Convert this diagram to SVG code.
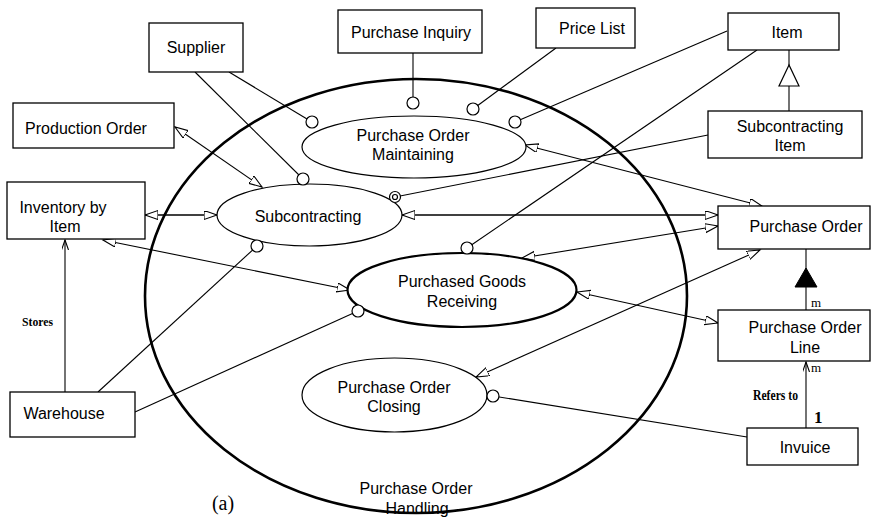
<svg xmlns="http://www.w3.org/2000/svg" width="873" height="524" viewBox="0 0 873 524">
<defs>
<style>
.box{fill:#fff;stroke:#000;stroke-width:1.3}
.uc{fill:#fff;stroke:#000;stroke-width:1.2}
.t{font-family:"Liberation Sans",Arial,sans-serif;font-size:16px;fill:#000;text-anchor:middle}
.s{font-family:"Liberation Serif","Times New Roman",serif;font-weight:bold;font-size:13px;fill:#000}
.ln{stroke:#000;stroke-width:1.1;fill:none}
.bi{marker-start:url(#ha);marker-end:url(#ha)}
.pt{fill:#fff;stroke:#000;stroke-width:1.2}
.m{font-family:"Liberation Serif","Times New Roman",serif;font-size:13px;fill:#000}
</style>
<marker id="ha" markerUnits="userSpaceOnUse" markerWidth="16" markerHeight="12" refX="13" refY="4.5" orient="auto-start-reverse">
<path d="M0,0 L13,4.5 L0,9 z" fill="#fff" stroke="#000" stroke-width="1.1"/>
</marker>
<marker id="va" markerUnits="userSpaceOnUse" markerWidth="12" markerHeight="10" refX="10" refY="3.5" orient="auto">
<path d="M0,0 L10,3.5 L0,7" fill="none" stroke="#000" stroke-width="1.1"/>
</marker>
</defs>
<rect width="873" height="524" fill="#fff"/>

<g id="handling">
<ellipse cx="416" cy="296" rx="271" ry="217" fill="none" stroke="#000" stroke-width="2.6"/>
<text class="t" x="416" y="494">Purchase Order</text>
<text class="t" x="417" y="514">Handling</text>
</g>

<g id="connectors">
<line class="ln" x1="229" y1="72" x2="312" y2="122"/>
<line class="ln" x1="195" y1="72" x2="303" y2="179"/>
<line class="ln" x1="413" y1="53" x2="413" y2="103"/>
<line class="ln" x1="556" y1="48" x2="473" y2="109"/>
<line class="ln" x1="727" y1="31" x2="515" y2="122"/>
<line class="ln" x1="757" y1="50" x2="467" y2="248"/>
<line class="ln" x1="708" y1="135" x2="395" y2="197"/>
<line class="ln bi" x1="525" y1="145" x2="762" y2="206"/>
<line class="ln bi" x1="175" y1="127" x2="262" y2="187"/>
<line class="ln bi" x1="145" y1="215" x2="217" y2="215" style="stroke-width:1.5"/>
<line class="ln bi" x1="402" y1="215" x2="718" y2="215" style="stroke-width:1.6"/>
<line class="ln bi" x1="103" y1="240" x2="350" y2="290"/>
<line class="ln bi" x1="522" y1="258" x2="718" y2="226"/>
<line class="ln bi" x1="577" y1="292" x2="718" y2="323"/>
<line class="ln bi" x1="760" y1="250" x2="476" y2="377"/>
<line class="ln" x1="257" y1="246" x2="98" y2="392"/>
<line class="ln" x1="358" y1="311" x2="135" y2="412"/>
<line class="ln" x1="493" y1="396" x2="747" y2="437"/>
<line class="ln" x1="65" y1="392" x2="65" y2="240" marker-end="url(#va)"/>
<line class="ln" x1="806" y1="428" x2="806" y2="362" marker-end="url(#va)"/>
<line class="ln" x1="789" y1="50" x2="789" y2="111"/>
<polygon points="789,65 779,86 799,86" fill="#fff" stroke="#000" stroke-width="1.2"/>
<line class="ln" x1="806" y1="249" x2="806" y2="310"/>
<polygon points="806,268 795,287 817,287" fill="#000" stroke="#000"/>
<text class="s" x="22" y="326" textLength="31" lengthAdjust="spacingAndGlyphs">Stores</text>
<text class="s" x="753" y="400" style="font-size:15px" textLength="45" lengthAdjust="spacingAndGlyphs">Refers to</text>
<text class="m" x="811" y="307">m</text>
<text class="m" x="811" y="372">m</text>
<text class="m" x="814" y="423" style="font-size:17px;font-weight:bold">1</text>
</g>

<g id="uc-pom">
<ellipse class="uc" cx="414" cy="147" rx="112" ry="31"/>
<text class="t" x="413" y="141">Purchase Order</text>
<text class="t" x="413" y="160">Maintaining</text>
</g>
<g id="uc-sub">
<ellipse class="uc" cx="309.5" cy="215" rx="92.5" ry="31"/>
<text class="t" x="308" y="222">Subcontracting</text>
</g>
<g id="uc-pgr">
<ellipse cx="462" cy="290" rx="114.5" ry="37" fill="#fff" stroke="#000" stroke-width="2.2"/>
<text class="t" x="462" y="287">Purchased Goods</text>
<text class="t" x="462" y="307">Receiving</text>
</g>
<g id="uc-poc">
<ellipse class="uc" cx="394.5" cy="395" rx="92.5" ry="37"/>
<text class="t" x="394" y="393">Purchase Order</text>
<text class="t" x="394" y="412">Closing</text>
</g>

<g id="ports">
<circle class="pt" cx="312" cy="122" r="6"/>
<circle class="pt" cx="303" cy="179" r="6"/>
<circle class="pt" cx="413" cy="103" r="6"/>
<circle class="pt" cx="473" cy="109" r="6"/>
<circle class="pt" cx="515" cy="122" r="6"/>
<circle class="pt" cx="467" cy="248" r="6"/>
<circle class="pt" cx="395" cy="197" r="5.5"/>
<circle cx="395" cy="197" r="2.5" fill="none" stroke="#000" stroke-width="1.2"/>
<circle class="pt" cx="257" cy="246" r="6"/>
<circle class="pt" cx="358" cy="311" r="6"/>
<circle class="pt" cx="493" cy="396" r="6"/>
</g>

<g id="supplier"><rect class="box" x="149" y="23" width="94" height="49"/><text class="t" x="196" y="53">Supplier</text></g>
<g id="purchase-inquiry"><rect class="box" x="338" y="10" width="144" height="43"/><text class="t" x="411" y="38">Purchase Inquiry</text></g>
<g id="price-list"><rect class="box" x="536" y="8" width="99" height="40"/><text class="t" x="592" y="34">Price List</text></g>
<g id="item"><rect class="box" x="728" y="13" width="111" height="37"/><text class="t" x="787" y="38">Item</text></g>
<g id="subcontracting-item"><rect class="box" x="708" y="111" width="154" height="47"/><text class="t" x="790" y="132">Subcontracting</text><text class="t" x="790" y="151">Item</text></g>
<g id="production-order"><rect class="box" x="13" y="103" width="161" height="45"/><text class="t" x="86" y="134">Production Order</text></g>
<g id="inventory"><rect class="box" x="7" y="182" width="138" height="57"/><text class="t" x="63" y="213">Inventory by</text><text class="t" x="65" y="232">Item</text></g>
<g id="warehouse"><rect class="box" x="10" y="392" width="125" height="45"/><text class="t" x="64" y="419">Warehouse</text></g>
<g id="purchase-order"><rect class="box" x="718" y="206" width="152" height="43"/><text class="t" x="806" y="232">Purchase Order</text></g>
<g id="purchase-order-line"><rect class="box" x="718" y="310" width="152" height="51"/><text class="t" x="805" y="333">Purchase Order</text><text class="t" x="805" y="353">Line</text></g>
<g id="invoice"><rect class="box" x="747" y="428" width="111" height="37"/><text class="t" x="805" y="453">Invuice</text></g>

<text x="223" y="510" font-family="Liberation Serif,serif" font-size="20" text-anchor="middle">(a)</text>
</svg>
